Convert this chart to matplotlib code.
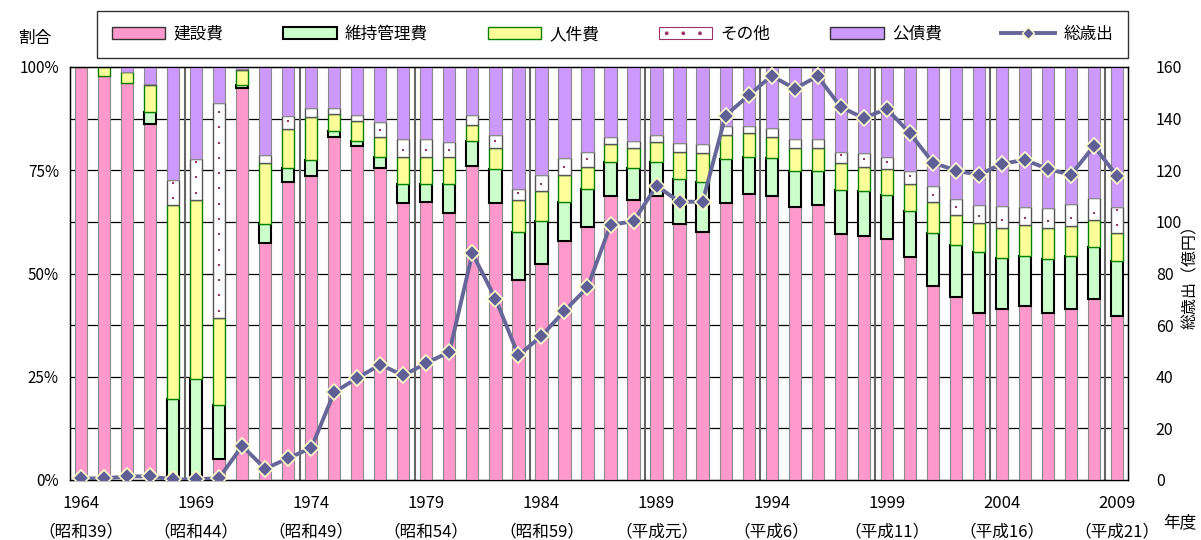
import matplotlib.pyplot as plt
import numpy as np
from matplotlib.patches import Patch
from matplotlib.lines import Line2D

plt.rcParams['font.family'] = ['Noto Sans CJK JP', 'DejaVu Sans']
plt.rcParams['hatch.linewidth'] = 0.3

# fiscal years
years = list(range(1964, 2010))

# shares of total spending (%)
construction = [100, 97.9, 96.1, 86.1, 0, 0, 5.2, 94.8, 57.4, 72.2,
                73.5, 83.0, 80.9, 75.6, 67.0, 67.4, 64.7, 76.1, 67.0, 48.4,
                52.3, 57.8, 61.3, 68.8, 67.8, 68.8, 62.1, 60.0, 67.0, 69.2,
                68.8, 66.2, 66.6, 59.5, 59.1, 58.3, 53.9, 46.9, 44.3, 40.5,
                41.3, 42.2, 40.5, 41.3, 43.9, 39.6]
maintenance = [0, 0, 0, 3.0, 19.6, 24.4, 13.0, 0.8, 4.7, 3.3,
               4.0, 1.4, 1.2, 2.5, 4.7, 4.3, 7.0, 6.1, 8.3, 11.6,
               10.3, 9.5, 9.1, 8.1, 7.8, 8.1, 10.9, 12.2, 10.8, 9.0,
               9.1, 8.6, 8.2, 10.8, 10.8, 10.8, 11.2, 13.0, 12.5, 14.8,
               12.5, 12.1, 13.0, 12.9, 12.5, 13.4]
personnel = [0, 2.1, 2.7, 6.6, 46.9, 43.4, 21.0, 3.6, 14.7, 9.6,
             10.3, 4.3, 4.9, 4.9, 6.5, 6.5, 6.5, 3.8, 5.1, 7.8,
             7.3, 6.6, 5.5, 4.4, 4.7, 4.9, 6.5, 7.0, 5.7, 5.8,
             5.2, 5.6, 5.6, 6.5, 6.0, 6.1, 6.6, 7.4, 7.4, 6.9,
             7.3, 7.4, 7.4, 7.4, 6.5, 6.9]
other = [0, 0, 0, 0.3, 6.1, 10.0, 52.2, 0.3, 1.9, 3.1,
         2.3, 1.4, 1.3, 3.6, 4.4, 4.4, 3.6, 2.3, 3.1, 2.6,
         4.0, 4.0, 3.6, 1.7, 1.9, 1.8, 2.2, 2.2, 2.1, 1.6,
         2.2, 2.2, 2.2, 2.7, 3.2, 2.9, 3.0, 3.9, 3.9, 4.4,
         5.3, 4.4, 4.9, 5.3, 5.4, 6.2]
debt = [0, 0, 1.2, 4.0, 27.3, 22.2, 8.7, 0.5, 21.3, 11.7,
        10.0, 10.0, 11.7, 13.4, 17.5, 17.5, 18.3, 11.7, 16.6, 29.6,
        26.1, 22.2, 20.5, 17.0, 17.8, 16.5, 18.3, 18.7, 14.4, 14.4,
        14.8, 17.5, 17.5, 20.5, 20.9, 21.8, 25.3, 28.8, 31.8, 33.5,
        33.5, 33.8, 34.3, 33.0, 31.6, 33.8]

# total spending (100 million yen)
total = [0.6, 0.6, 1.4, 1.4, 0.2, 0.2, 0.8, 13.2, 4.3, 8.5,
         12.4, 34.0, 39.5, 44.7, 40.5, 45.3, 49.6, 87.8, 70.3, 48.3,
         55.8, 65.5, 74.6, 98.8, 100.3, 113.9, 107.8, 107.8, 141.2, 149.0,
         156.6, 151.6, 156.4, 144.5, 140.2, 143.8, 134.4, 123.0, 119.9, 118.2,
         122.5, 124.0, 120.5, 118.2, 129.4, 117.8]

tick_years = [1964, 1969, 1974, 1979, 1984, 1989, 1994, 1999, 2004, 2009]
era_labels = ['昭和39', '昭和44', '昭和49', '昭和54', '昭和59',
              '平成元', '平成6', '平成11', '平成16', '平成21']

fig = plt.figure(figsize=(12.01, 5.4), dpi=100)
ax = fig.add_axes([70 / 1201, 60 / 540, 1058 / 1201, 413 / 540])

x = np.array(years)
w = 0.53
fs = 11

bottom = np.zeros(len(years))
ax.bar(x, construction, w, bottom=bottom, color='#FF99CC', edgecolor='#8a8a8a', lw=0.8, zorder=3)
bottom += construction
ax.bar(x, maintenance, w, bottom=bottom, color='#CCFFCC', edgecolor='black', lw=1.5, zorder=3)
bottom += maintenance
ax.bar(x, personnel, w, bottom=bottom, color='#FFFF99', edgecolor='#008000', lw=1.0, zorder=3)
bottom += personnel
ax.bar(x, other, w, bottom=bottom, color='white', edgecolor='#555555', lw=1.0, zorder=3)
# small dots inside the "other" segments
dot_x, dot_y = [], []
for xi, b, h in zip(x, bottom, other):
    if h < 1.5:
        continue
    for yy in np.arange(b + 1.8, b + h - 0.5, 3.7):
        dot_x.append(xi)
        dot_y.append(yy)
ax.scatter(dot_x, dot_y, s=3, marker='s', color='#993366', lw=0, zorder=4)
bottom += other
ax.bar(x, debt, w, bottom=bottom, color='#CC99FF', edgecolor='#8a8a8a', lw=0.8, zorder=3)

# grid lines
for v in np.arange(12.5, 100, 12.5):
    ax.axhline(v, color='black', lw=0.9, zorder=1)
for yr in tick_years[1:]:
    ax.axvline(yr - 0.5, color='#666666', lw=1.5, zorder=1)

ax.set_xlim(1963.52, 2009.48)
ax.set_ylim(0, 100)
ax.set_yticks([0, 25, 50, 75, 100])
ax.set_yticklabels(['0%', '25%', '50%', '75%', '100%'], fontsize=fs)
ax.set_xticks(tick_years)
ax.set_xticklabels([f'{y}\n（{e}）' for y, e in zip(tick_years, era_labels)],
                   fontsize=12, linespacing=1.85)
ax.tick_params(axis='y', length=0, pad=8)
ax.tick_params(axis='x', length=0, pad=11)
for s in ax.spines.values():
    s.set_linewidth(1.0)

ax2 = ax.twinx()
ax2.plot(x, total, color='#666699', lw=2.8, marker='D', markersize=8,
         markerfacecolor='#5f5f96', markeredgecolor='#FFFFCC', markeredgewidth=1.2,
         zorder=5)
ax2.set_ylim(0, 160)
ax2.set_yticks(range(0, 161, 20))
ax2.tick_params(axis='y', length=0, pad=20, labelsize=fs + 0.5)
ax2.set_ylabel('総歳出（億円）', fontsize=fs + 0.5, labelpad=0)

fig.text(35 / 1201, 1 - 38 / 540, '割合', fontsize=fs + 1, ha='center', va='center')
fig.text(1180 / 1201, 1 - 523 / 540, '年度', fontsize=fs + 1, ha='center', va='center')

# legend
handles = [
    Patch(facecolor='#FF99CC', edgecolor='#333333', lw=1.0),
    Patch(facecolor='#CCFFCC', edgecolor='black', lw=1.5),
    Patch(facecolor='#FFFF99', edgecolor='#008000', lw=1.0),
    Patch(facecolor='white', edgecolor='#993366', hatch='.', lw=0.8),
    Patch(facecolor='#CC99FF', edgecolor='#333333', lw=1.0),
    Line2D([], [], color='#666699', lw=2.8, marker='D', markersize=6,
           markerfacecolor='#5f5f96', markeredgecolor='#FFFFCC'),
]
labels = ['建設費', '維持管理費', '人件費', 'その他', '公債費', '総歳出']
leg = fig.legend(handles, labels, loc='lower left', ncol=6, mode='expand',
                 bbox_to_anchor=(97 / 1201, 1 - 58 / 540, 1031 / 1201, 50 / 540),
                 borderaxespad=0, fontsize=fs + 1, handlelength=3.2, handleheight=0.7,
                 frameon=True, fancybox=False, edgecolor='black', borderpad=0.9,
                 handletextpad=0.5)
leg.get_frame().set_linewidth(1.0)

fig.savefig('out.png', dpi=100)
